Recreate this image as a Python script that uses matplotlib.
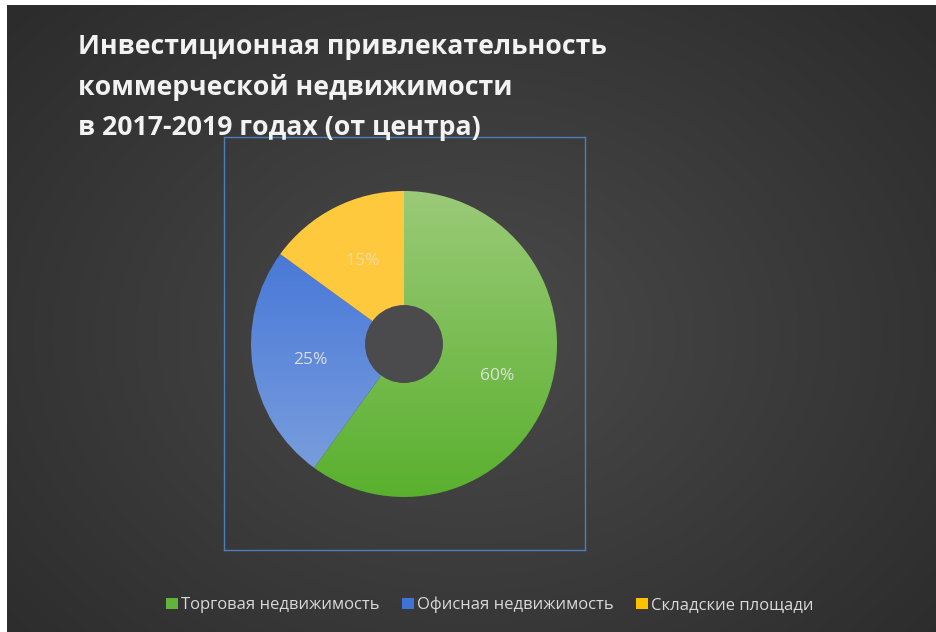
import numpy as np
import matplotlib
matplotlib.use("Agg")
import matplotlib.pyplot as plt
from matplotlib.colors import LinearSegmentedColormap
from matplotlib.patches import Patch

plt.rcParams["font.family"] = ["Open Sans", "DejaVu Sans"]

TITLE = "Инвестиционная привлекательность\nкоммерческой недвижимости\nв 2017-2019 годах (от центра)"
CATEGORIES = ["Торговая недвижимость", "Офисная недвижимость", "Складские площади"]
SHARES = [60, 25, 15]
# top / bottom colours of each wedge's fill
GRADS = [("#9bca78", "#59b02e"), ("#3b6ed6", "#7fa2de"), ("#ffc93e", "#ffc93e")]
LEGEND_COLORS = ["#62b33a", "#3f73d8", "#ffc000"]

W, H = 937, 632
fig = plt.figure(figsize=(W / 100, H / 100), dpi=100, facecolor="white")

# dark radial background
bg = fig.add_axes([7 / W, 0, 1 - 7 / W, 1 - 5 / H])
yy, xx = np.mgrid[0:H - 5, 0:W - 7]
r = np.sqrt(((xx - 460) / 620) ** 2 + ((yy - 330) / 480) ** 2)
bg_cmap = LinearSegmentedColormap.from_list("bg", ["#4a4a4a", "#2c2c2c"])
bg.imshow(np.clip(r, 0, 1), cmap=bg_cmap, vmin=0, vmax=1, aspect="auto",
          interpolation="bilinear")
bg.set_axis_off()

# plot-area frame
frame = fig.add_axes([224 / W, 1 - 550 / H, (585 - 224) / W, (550 - 137) / H])
frame.patch.set_alpha(0)
frame.set_xticks([]); frame.set_yticks([])
for s in frame.spines.values():
    s.set_color("#4a7fbb"); s.set_linewidth(1.0)

# doughnut
R = 153
cx, cy = 404, 344
ax = fig.add_axes([(cx - R) / W, 1 - (cy + R) / H, 2 * R / W, 2 * R / H])
ax.patch.set_alpha(0)
wedges, _ = ax.pie(SHARES, startangle=90, counterclock=False, radius=1,
                   colors=["none"] * 3, wedgeprops=dict(width=1 - 0.25, linewidth=0))
for w, (top, bot) in zip(wedges, GRADS):
    cm = LinearSegmentedColormap.from_list("g", [top, bot])
    grad = np.linspace(0, 1, 256).reshape(-1, 1)
    im = ax.imshow(grad, cmap=cm, extent=(-1, 1, -1, 1), aspect="auto",
                   origin="upper", zorder=1)
    im.set_clip_path(w)
ax.add_patch(plt.Circle((0, 0), 0.25, color="#4b4a4d", zorder=2))
ax.set_xlim(-1, 1); ax.set_ylim(-1, 1)
ax.set_axis_off()

# percentage labels
label_pos = [(0.61, -0.21), (-0.61, -0.105), (-0.27, 0.54)]
for (x, y), v in zip(label_pos, SHARES):
    ax.text(x, y, f"{v}%", color="#e6e6e6", fontsize=12.5, ha="center",
            va="center", zorder=3, alpha=0.9 if v != 15 else 0.6)

fig.text(78 / W, 1 - 34 / H, TITLE, color="#f2f2f2", fontsize=19.2,
         fontweight="bold", va="top", ha="left", linespacing=1.68, zorder=5)

handles = [Patch(facecolor=c, edgecolor="none") for c in LEGEND_COLORS]
fig.legend(handles, CATEGORIES, loc="center", bbox_to_anchor=(490 / W, 1 - 605 / H),
           ncol=3, frameon=False, labelcolor="#d9d9d9", fontsize=12,
           handlelength=0.7, handleheight=0.7, handletextpad=0.2,
           columnspacing=1.35)

fig.savefig("out.png", dpi=100, facecolor=fig.get_facecolor())
